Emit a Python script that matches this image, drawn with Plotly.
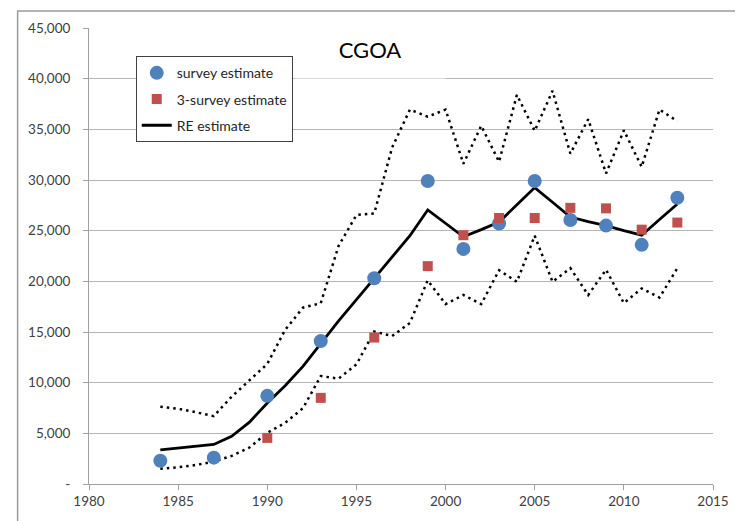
import plotly.graph_objects as go

# ---- data ----
survey_years = [1984, 1987, 1990, 1993, 1996, 1999, 2001, 2003, 2005, 2007, 2009, 2011, 2013]
survey_est = [2300, 2600, 8700, 14100, 20300, 29900, 23200, 25700, 29900, 26050, 25500, 23600, 28250]

three_years = [1990, 1993, 1996, 1999, 2001, 2003, 2005, 2007, 2009, 2011, 2013]
three_est = [4550, 8500, 14450, 21500, 24550, 26250, 26250, 27250, 27200, 25100, 25800]

re_years = list(range(1984, 2014))
re_est = [3360, 3540, 3720, 3900, 4700, 6100, 8000, 9700, 11600, 13900,
          16100, 18200, 20300, 22300, 24500, 27050, 25700, 24400, 25100, 25850,
          27550, 29250, 27800, 26350, 25900, 25500, 25000, 24550, 26100, 27630]
re_upper = [7620, 7420, 7080, 6700, 8610, 10230, 11850, 15200, 17400, 17850,
            23500, 26550, 26700, 33200, 36950, 36250, 36950, 31600, 35350, 31800,
            38400, 34850, 38800, 32600, 36000, 30650, 34900, 31300, 36950, 35800]
re_lower = [1500, 1650, 1880, 2200, 2780, 3600, 5050, 6030, 7480, 10650,
            10400, 11800, 15050, 14600, 15900, 20100, 17750, 18650, 17750, 21100,
            19950, 24500, 19950, 21300, 18650, 21150, 17850, 19300, 18400, 21300]

x_ticks = [1980, 1985, 1990, 1995, 2000, 2005, 2010, 2015]
y_tick_vals = [0, 5000, 10000, 15000, 20000, 25000, 30000, 35000, 40000, 45000]
y_tick_text = ["-", "5,000", "10,000", "15,000", "20,000", "25,000", "30,000",
               "35,000", "40,000", "45,000"]

title_text = "CGOA"
FONT = "Lato, 'Open Sans', sans-serif"

fig = go.Figure()

dot = "2.5px,4px"
fig.add_trace(go.Scatter(x=re_years, y=re_upper, mode="lines", showlegend=False,
                         line=dict(color="black", width=2.5, dash=dot), hoverinfo="skip"))
fig.add_trace(go.Scatter(x=re_years, y=re_lower, mode="lines", showlegend=False,
                         line=dict(color="black", width=2.5, dash=dot), hoverinfo="skip"))
fig.add_trace(go.Scatter(x=re_years, y=re_est, mode="lines", name="RE estimate",
                         legendgroup="c", legendrank=3,
                         line=dict(color="black", width=2.8)))
fig.add_trace(go.Scatter(x=survey_years, y=survey_est, mode="markers", name="survey estimate",
                         legendgroup="a", legendrank=1,
                         marker=dict(symbol="circle", size=14, color="#4f81bd")))
fig.add_trace(go.Scatter(x=three_years, y=three_est, mode="markers", name="3-survey estimate",
                         legendgroup="b", legendrank=2,
                         marker=dict(symbol="square", size=10, color="#c0504d")))

# outer frame
fig.add_shape(type="rect", xref="paper", yref="paper",
              x0=-0.1144, x1=1.0454, y0=-0.2, y1=1.0374,
              line=dict(color="#9a9a9a", width=1.5), layer="below")

fig.add_annotation(xref="paper", yref="paper", x=(370 - 89.3) / 623.4, y=(485.3 - 13) / 463,
                   xanchor="center", yanchor="top", text=title_text, showarrow=False,
                   width=148, height=56, bgcolor="white",
                   font=dict(family=FONT, size=22, color="black"))

fig.update_layout(
    width=735, height=513,
    margin=dict(l=81, r=30, t=14, b=36),
    paper_bgcolor="white", plot_bgcolor="white",
    font=dict(family=FONT, size=13, color="#404040"),
    showlegend=True,
    legend=dict(x=(136 - 89.3) / 623.4, y=(485.3 - 51) / 463, xanchor="left", yanchor="top",
                bordercolor="#404040", borderwidth=1, bgcolor="white",
                traceorder="grouped", tracegroupgap=5,
                font=dict(family=FONT, size=14, color="#262626")),
)
fig.update_xaxes(range=[1980, 2015], tickvals=x_ticks, showgrid=False,
                 showline=True, linecolor="#a0a0a0", linewidth=1,
                 ticks="outside", ticklen=5, tickcolor="#a0a0a0",
                 tickfont=dict(size=13.5, color="#404040"), zeroline=False, fixedrange=True)
fig.update_yaxes(range=[0, 45000], tickvals=y_tick_vals, ticktext=y_tick_text,
                 showgrid=True, gridcolor="#b5b5b5", gridwidth=1,
                 showline=True, linecolor="#a0a0a0", linewidth=1,
                 ticks="outside", ticklen=5, tickcolor="#a0a0a0", ticklabelstandoff=10,
                 tickfont=dict(size=13.5, color="#404040"), zeroline=False, fixedrange=True)

fig.write_html("out.html")
